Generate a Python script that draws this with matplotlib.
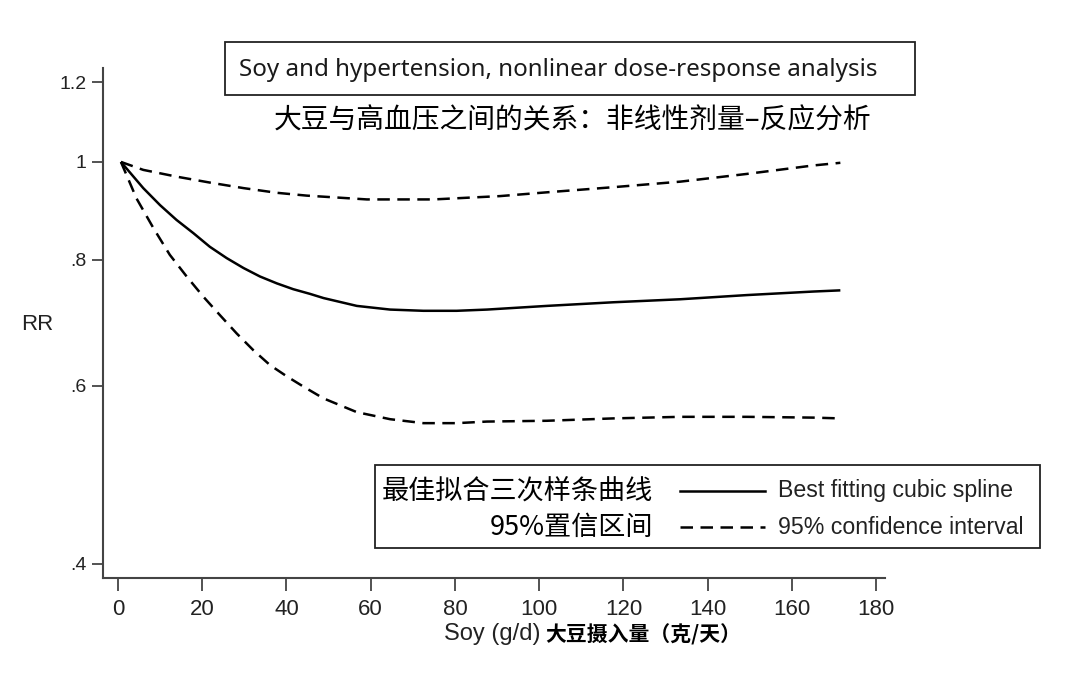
import numpy as np
import matplotlib
matplotlib.use('Agg')
import matplotlib.pyplot as plt
from matplotlib import font_manager
from matplotlib.patches import Rectangle
from matplotlib.lines import Line2D

# values (soy g/d vs RR)
soy_fit = [0.7, 6.0, 10.0, 13.9, 17.9, 21.8, 25.8, 29.8, 33.7, 37.7, 41.6, 45.6, 48.8, 56.7,
           64.6, 72.5, 80.4, 87.6, 101.8, 117.6, 133.5, 149.3, 165.1, 171.5]
rr_fit = [1.0, 0.942, 0.906, 0.876, 0.850, 0.824, 0.803, 0.785, 0.770, 0.758, 0.748, 0.740, 0.733, 0.720,
          0.714, 0.712, 0.712, 0.714, 0.720, 0.726, 0.731, 0.738, 0.744, 0.746]

soy_hi = [0.7, 6.0, 13.9, 21.8, 29.8, 37.7, 44.8, 59.1, 74.9, 90.7, 101.8, 117.6, 133.5, 149.3,
          165.1, 171.5]
rr_hi = [1.0, 0.982, 0.967, 0.954, 0.942, 0.932, 0.926, 0.918, 0.918, 0.925, 0.933, 0.944, 0.956, 0.973,
         0.992, 0.998]

soy_lo = [0.7, 4.4, 8.4, 12.3, 16.3, 20.3, 24.2, 28.2, 32.1, 36.1, 40.1, 44.0, 48.8, 56.7, 64.6,
          72.5, 80.4, 87.6, 101.8, 117.6, 133.5, 149.3, 165.1, 171.5]
rr_lo = [1.0, 0.920, 0.860, 0.809, 0.770, 0.735, 0.705, 0.676, 0.651, 0.629, 0.613, 0.599, 0.583, 0.565,
         0.556, 0.551, 0.551, 0.553, 0.554, 0.557, 0.559, 0.559, 0.558, 0.557]

xticks = list(range(0, 181, 20))
yticks = [0.4, 0.6, 0.8, 1.0, 1.2]
ylabels = ['.4', '.6', '.8', '1', '1.2']

names = {f.name for f in font_manager.fontManager.ttflist}
narrow = 'Liberation Sans Narrow' if 'Liberation Sans Narrow' in names else 'Liberation Sans'
cjk = 'Noto Sans CJK SC'

W, H = 1080, 675
fig = plt.figure(figsize=(10.8, 6.75), dpi=100)
ax = fig.add_axes([103 / W, 1 - 578 / H, (885 - 103) / W, (578 - 68) / H])

dash = (0, (5, 3))
ax.plot(soy_fit, rr_fit, color='black', lw=1.8, solid_capstyle='butt')
ax.plot(soy_hi, rr_hi, color='black', lw=1.8, linestyle=dash)
ax.plot(soy_lo, rr_lo, color='black', lw=1.8, linestyle=dash)

ax.set_yscale('log')
ax.set_xlim(-3.56, 182.1)
ax.set_ylim(0.387, 1.239)
ax.set_xticks(xticks)
ax.set_xticklabels([str(t) for t in xticks], fontsize=16, family=narrow, color='#222222')
ax.set_yticks(yticks)
ax.set_yticklabels(ylabels, fontsize=14, family='Liberation Sans', color='#222222')
ax.yaxis.set_minor_locator(matplotlib.ticker.NullLocator())
ax.tick_params(axis='x', length=9, width=1.3, color='#444444', pad=6)
ax.tick_params(axis='y', length=8, width=1.3, color='#444444', pad=4)
for s in ['top', 'right']:
    ax.spines[s].set_visible(False)
for s in ['left', 'bottom']:
    ax.spines[s].set_color('#444444')
    ax.spines[s].set_linewidth(1.5)

fig.text(37 / W, 1 - 325 / H, 'RR', fontsize=16, family='Liberation Sans', ha='center', va='center',
         color='#222222')
fig.text(541 / W, 1 - 634 / H, 'Soy (g/d)', fontsize=17, family=narrow, ha='right', va='center', color='#222222')
fig.text(545 / W, 1 - 635 / H, '大豆摄入量（克/天）', fontsize=15, family=[cjk, 'DejaVu Sans'],
         fontweight='bold', ha='left', va='center')

# title box
fig.add_artist(Rectangle((225 / W, 1 - 95 / H), (915 - 225) / W, (95 - 42) / H,
                         transform=fig.transFigure, fill=False, edgecolor='#222222', lw=1.3))
fig.text(558 / W, 1 - 70 / H, 'Soy and hypertension, nonlinear dose-response analysis',
         fontsize=17.4, family='Noto Sans', ha='center', va='center', color='#1a1a1a')
fig.text(573 / W, 1 - 120 / H, '大豆与高血压之间的关系：非线性剂量–反应分析',
         fontsize=20, family=[cjk, 'DejaVu Sans'], ha='center', va='center')

# legend box
fig.add_artist(Rectangle((375 / W, 1 - 548 / H), (1040 - 375) / W, (548 - 465) / H,
                         transform=fig.transFigure, fill=False, edgecolor='#222222', lw=1.3))
fig.add_artist(Line2D([680 / W, 765 / W], [1 - 491 / H] * 2, transform=fig.transFigure,
                      color='black', lw=1.8))
fig.add_artist(Line2D([680 / W, 765 / W], [1 - 527 / H] * 2, transform=fig.transFigure,
                      color='black', lw=1.8, linestyle=dash))
fig.text(653 / W, 1 - 491 / H, '最佳拟合三次样条曲线', fontsize=19.5, family=[cjk, 'DejaVu Sans'],
         ha='right', va='center')
fig.text(653 / W, 1 - 527 / H, '95%置信区间', fontsize=19.5, family=[cjk, 'DejaVu Sans'],
         ha='right', va='center')
fig.text(778 / W, 1 - 491 / H, 'Best fitting cubic spline', fontsize=16.7, family=narrow,
         ha='left', va='center', color='#222222')
fig.text(778 / W, 1 - 527 / H, '95% confidence interval', fontsize=16.7, family=narrow,
         ha='left', va='center', color='#222222')

plt.savefig('out.png', dpi=100)
